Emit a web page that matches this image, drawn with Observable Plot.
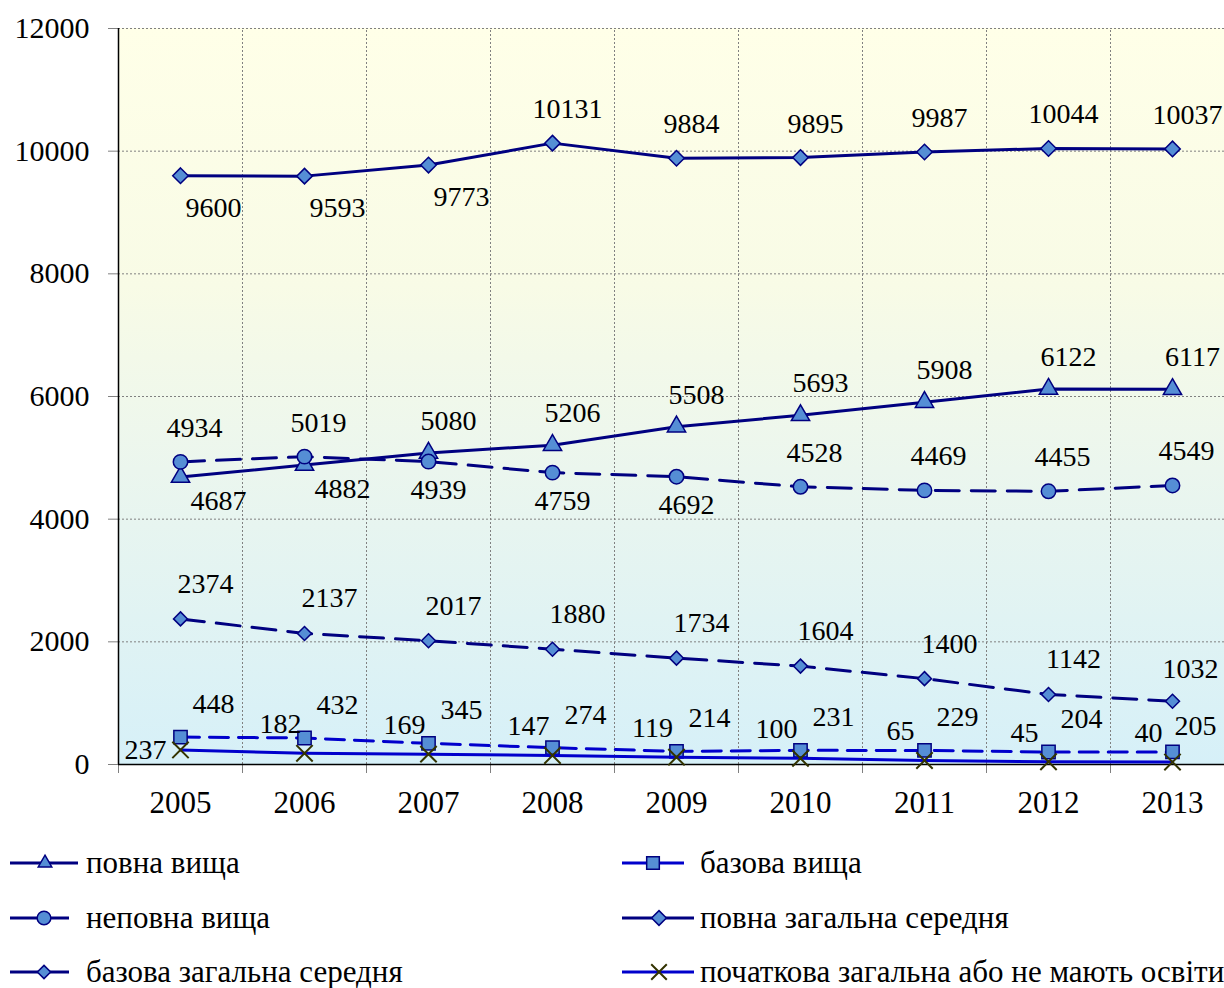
<!DOCTYPE html>
<html><head><meta charset="utf-8">
<script src="https://cdn.jsdelivr.net/npm/d3@7"></script>
<script src="https://cdn.jsdelivr.net/npm/@observablehq/plot@0.6"></script>
<style>
html,body{margin:0;padding:0;background:#fff;overflow:hidden;}
#wrap{position:relative;width:1224px;height:988px;font-family:"Liberation Serif","Times New Roman",serif;}
#chart svg{display:block;overflow:hidden;}
.legsvg{position:absolute;}
.legtxt{position:absolute;font-size:31px;line-height:34px;color:#000;white-space:nowrap;}
</style></head><body><div id="wrap"><div id="chart"></div></div>
<script>
// ---- data ----
const years = [2005, 2006, 2007, 2008, 2009, 2010, 2011, 2012, 2013];
const seriesNames = [
  "повна вища",
  "базова вища",
  "неповна вища",
  "повна загальна середня",
  "базова загальна середня",
  "початкова загальна або не мають освіти"
];
const povnaVyshcha   = [4687, 4882, 5080, 5206, 5508, 5693, 5908, 6122, 6117];
const bazovaVyshcha  = [448, 432, 345, 274, 214, 231, 229, 204, 205];
const nepovnaVyshcha = [4934, 5019, 4939, 4759, 4692, 4528, 4469, 4455, 4549];
const povnaZagalna   = [9600, 9593, 9773, 10131, 9884, 9895, 9987, 10044, 10037];
const bazovaZagalna  = [2374, 2137, 2017, 1880, 1734, 1604, 1400, 1142, 1032];
const pochatkova     = [237, 182, 169, 147, 119, 100, 65, 45, 40];
// label side for each point
const povnaVyshchaSide   = ["below","below","above","above","above","above","above","above","above"];
const bazovaVyshchaSide  = ["above","above","above","above","above","above","above","above","aboveNear"];
const nepovnaVyshchaSide = ["above","above","below","below","below","above","above","above","above"];
const povnaZagalnaSide   = ["below","below","below","above","above","above","above","above","above"];
const bazovaZagalnaSide  = ["above","above","above","above","above","above","above","above","aboveNear"];
const pochatkovaSide     = ["left","upleft","upleft","upleft","upleft","upleft","upleft","upleft","upleft"];
const yTicks = [0, 2000, 4000, 6000, 8000, 10000, 12000];

// ---- styles ----
const NAVY = "#000080", BLUE = "#0000cc", MFILL = "#558ed5";
const styles = [
  {values: povnaVyshcha, side: povnaVyshchaSide, stroke: NAVY, dash: null, symbol: "triangle", r: 6.8, mstroke: NAVY, mfill: MFILL,
   off: {above: [20, -32], below: [38, 24]}},
  {values: bazovaVyshcha, side: bazovaVyshchaSide, stroke: BLUE, dash: "19,10", symbol: "square", r: 7.5, mstroke: NAVY, mfill: MFILL,
   off: {above: [33, -33], aboveNear: [23, -26]}},
  {values: nepovnaVyshcha, side: nepovnaVyshchaSide, stroke: NAVY, dash: "24,12", symbol: "circle", r: 7.2, mstroke: NAVY, mfill: MFILL,
   off: {above: [14, -34], below: [10, 28]}},
  {values: povnaZagalna, side: povnaZagalnaSide, stroke: NAVY, dash: null, symbol: "diamond2", r: 7.0, mstroke: NAVY, mfill: MFILL,
   off: {above: [15, -34], below: [33, 32]}},
  {values: bazovaZagalna, side: bazovaZagalnaSide, stroke: NAVY, dash: "24,12", symbol: "diamond2", r: 6.3, mstroke: NAVY, mfill: MFILL,
   off: {above: [25, -35], aboveNear: [18, -32]}},
  {values: pochatkova, side: pochatkovaSide, stroke: BLUE, dash: null, symbol: "times", r: 7.5, mstroke: "#333300", mfill: "none",
   off: {left: [-35, 0], upleft: [-24, -29]}}
];

const rows = [];
styles.forEach((s, si) => s.values.forEach((v, i) => rows.push({series: seriesNames[si], si, year: years[i], value: v, side: s.side[i]})));

const xDomain = [years[0] - 0.5, years[years.length - 1] + 0.5];
const bounds = d3.range(xDomain[0], xDomain[1] + 0.01, 1);

function background(index, scales) {
  const {x, y} = scales;
  const g = d3.create("svg:g");
  const grad = g.append("defs").append("linearGradient").attr("id", "bggrad")
    .attr("x1", 0).attr("y1", 0).attr("x2", 0).attr("y2", 1);
  grad.append("stop").attr("offset", "0%").attr("stop-color", "#ffffe8");
  grad.append("stop").attr("offset", "35%").attr("stop-color", "#f8fbe6");
  grad.append("stop").attr("offset", "60%").attr("stop-color", "#ebf6ee");
  grad.append("stop").attr("offset", "100%").attr("stop-color", "#d6f0f8");
  const x0 = x(xDomain[0]), x1 = x(xDomain[1]), y0 = y(yTicks[yTicks.length - 1]), y1 = y(0);
  g.append("rect").attr("x", x0).attr("y", y0).attr("width", x1 - x0).attr("height", y1 - y0).attr("fill", "url(#bggrad)");
  return g.node();
}

const marks = [background];
marks.push(Plot.ruleY(yTicks.slice(1), {stroke: "#808080", strokeDasharray: "2,2", strokeWidth: 1}));
marks.push(Plot.ruleX(bounds.slice(1), {y1: 0, y2: yTicks[yTicks.length - 1], stroke: "#808080", strokeDasharray: "2,2", strokeWidth: 1}));
marks.push(Plot.axisY({ticks: yTicks, tickSize: 10, tickPadding: 19, stroke: "#808080", fill: "black", fontSize: 30, tickFormat: d => String(d), label: null}));
marks.push(Plot.axisX({ticks: bounds, tickSize: 9, stroke: "#808080", fill: "none", label: null}));
marks.push(Plot.axisX({ticks: years, tickSize: 0, tickPadding: 26, stroke: "none", fill: "black", fontSize: 31, tickFormat: d => String(d), label: null}));
marks.push(Plot.ruleX([xDomain[0]], {y1: 0, y2: yTicks[yTicks.length - 1], stroke: "black", strokeWidth: 1.5}));
marks.push(Plot.ruleY([0], {stroke: "black", strokeWidth: 1.5}));

styles.forEach((s, si) => {
  const d = rows.filter(r => r.si === si);
  marks.push(Plot.line(d, {x: "year", y: "value", stroke: s.stroke, strokeWidth: 3, strokeDasharray: s.dash, curve: "linear"}));
  marks.push(Plot.dot(d, {x: "year", y: "value", symbol: () => s.symbol, r: s.r, fill: s.mfill, stroke: s.mstroke,
    strokeWidth: s.symbol === "times" ? 2 : 1.5}));
});
styles.forEach((s, si) => {
  Object.entries(s.off).forEach(([side, [dx, dy]]) => {
    const d = rows.filter(r => r.si === si && r.side === side);
    marks.push(Plot.text(d, {x: "year", y: "value", text: r => String(r.value), dx, dy, fontSize: 28, fill: "black", lineAnchor: "middle"}));
  });
});

const chart = Plot.plot({
  width: 1224, height: 830,
  marginLeft: 118, marginRight: 0, marginTop: 28, marginBottom: 66,
  style: {fontFamily: '"Liberation Serif","Times New Roman",serif', background: "white", overflow: "hidden"},
  x: {type: "linear", domain: xDomain, range: [118, 1234], axis: null, label: null},
  y: {domain: [0, yTicks[yTicks.length - 1]], axis: null, label: null},
  symbol: {type: "identity"},
  marks
});
document.getElementById("chart").appendChild(chart);

// ---- legend ----
const wrap = document.getElementById("wrap");
const legendLayout = [
  {si: 0, col: 0, row: 0, lx1: 10, lx2: 78, mx: 45},
  {si: 1, col: 1, row: 0, lx1: 622, lx2: 684, mx: 653},
  {si: 2, col: 0, row: 1, lx1: 10, lx2: 69, mx: 44},
  {si: 3, col: 1, row: 1, lx1: 622, lx2: 694, mx: 659},
  {si: 4, col: 0, row: 2, lx1: 10, lx2: 69, mx: 44},
  {si: 5, col: 1, row: 2, lx1: 622, lx2: 694, mx: 659}
];
const rowY = [863, 918, 972];
const textX = [86, 700];
const symMap = {triangle: d3.symbolTriangle2, square: d3.symbolSquare, circle: d3.symbolCircle, diamond2: d3.symbolDiamond2, times: d3.symbolTimes};
legendLayout.forEach(L => {
  const s = styles[L.si];
  const cy = rowY[L.row];
  const svg = d3.create("svg").attr("class", "legsvg").attr("width", 100).attr("height", 30)
    .style("left", (L.lx1 - 5) + "px").style("top", (cy - 15) + "px");
  svg.append("line").attr("x1", 5).attr("x2", L.lx2 - L.lx1 + 5).attr("y1", 15).attr("y2", 15)
    .attr("stroke", s.stroke).attr("stroke-width", 3);
  const rr = s.r * 0.95;
  svg.append("path").attr("d", d3.symbol(symMap[s.symbol], Math.PI * rr * rr)())
    .attr("transform", `translate(${L.mx - L.lx1 + 5},15)`)
    .attr("fill", s.mfill).attr("stroke", s.mstroke).attr("stroke-width", s.symbol === "times" ? 2 : 1.5);
  wrap.appendChild(svg.node());
  const t = document.createElement("div");
  t.className = "legtxt";
  t.textContent = seriesNames[L.si];
  t.style.left = textX[L.col] + "px";
  t.style.top = (cy - 17) + "px";
  wrap.appendChild(t);
});
</script></body></html>
